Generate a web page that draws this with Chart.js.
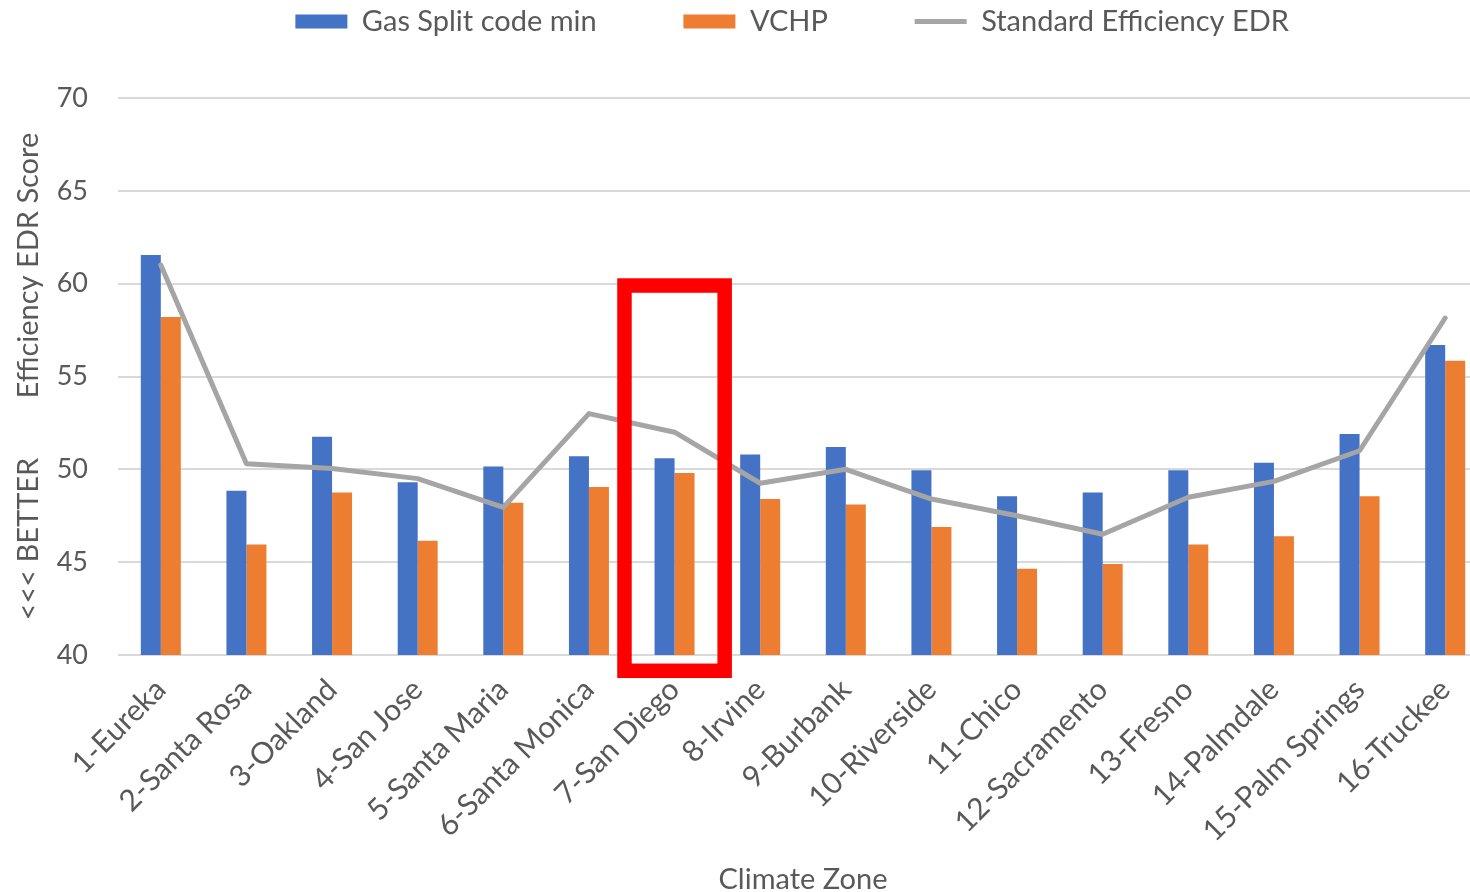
<!DOCTYPE html>
<html>
<head>
<meta charset="utf-8">
<script src="https://cdn.jsdelivr.net/npm/chart.js@4.4.1/dist/chart.umd.min.js"></script>
<style>
  html, body { margin: 0; padding: 0; background: #fff; overflow: hidden; }
  #wrap { width: 1470px; height: 892px; overflow: hidden; }
</style>
</head>
<body>
<div id="wrap"><canvas id="edrChart" width="1490" height="892"></canvas></div>
<script>
// Climate zones (x categories)
const zonas = [
  "1-Eureka", "2-Santa Rosa", "3-Oakland", "4-San Jose", "5-Santa Maria",
  "6-Santa Monica", "7-San Diego", "8-Irvine", "9-Burbank", "10-Riverside",
  "11-Chico", "12-Sacramento", "13-Fresno", "14-Palmdale", "15-Palm Springs",
  "16-Truckee"
];

// Series values
const gasSplit = [61.55, 48.85, 51.75, 49.3, 50.15, 50.7, 50.6, 50.8, 51.2, 49.95, 48.55, 48.75, 49.95, 50.35, 51.9, 56.7];
const vchp = [58.2, 45.95, 48.75, 46.15, 48.2, 49.05, 49.8, 48.4, 48.1, 46.9, 44.65, 44.9, 45.95, 46.4, 48.55, 55.85];
const standardEDR = [61.0, 50.3, 50.05, 49.5, 47.95, 53.0, 52.0, 49.25, 50.0, 48.4, 47.5, 46.5, 48.5, 49.35, 51.0, 58.15];

// Y axis
const yMin = 40;
const yMax = 70;
const yStep = 5;

// Highlighted zone (red box)
const zonaDestaque = 6;
const destaqueTopo = 59.9;
const destaqueBase = 39.15;

const textColor = '#595959';
const fontFamily = "Lato, 'Open Sans', sans-serif";

// keeps legend row at the top and the plot starting lower
const legendSpacer = {
  id: 'legendSpacer',
  afterInit(chart) {
    const legend = chart.legend;
    if (!legend) return;
    const fit = legend.fit;
    legend.fit = function () {
      fit.call(this);
      this.height = 98;
    };
  }
};

// red rectangle around the highlighted zone
const highlightBox = {
  id: 'highlightBox',
  afterDatasetsDraw(chart) {
    const { ctx, scales: { x, y } } = chart;
    const centro = x.getPixelForValue(zonaDestaque);
    const largura = x.width / zonas.length;
    const esquerda = centro - largura * 0.585;
    const direita = centro + largura * 0.585;
    const topo = y.getPixelForValue(destaqueTopo);
    const base = y.getPixelForValue(destaqueBase);
    ctx.save();
    ctx.strokeStyle = '#FF0000';
    ctx.lineWidth = 14.5;
    ctx.lineJoin = 'miter';
    ctx.strokeRect(esquerda, topo, direita - esquerda, base - topo);
    ctx.restore();
  }
};

const ctx = document.getElementById('edrChart').getContext('2d');

new Chart(ctx, {
  type: 'bar',
  data: {
    labels: zonas,
    datasets: [
      {
        label: 'Gas Split code min',
        data: gasSplit,
        backgroundColor: '#4472C4',
        borderWidth: 0,
        categoryPercentage: 0.467,
        barPercentage: 1.0
      },
      {
        label: 'VCHP',
        data: vchp,
        backgroundColor: '#ED7D31',
        borderWidth: 0,
        categoryPercentage: 0.467,
        barPercentage: 1.0
      },
      {
        type: 'line',
        label: 'Standard Efficiency EDR',
        data: standardEDR,
        borderColor: '#A5A5A5',
        backgroundColor: '#A5A5A5',
        borderWidth: 5,
        borderCapStyle: 'round',
        borderJoinStyle: 'round',
        pointRadius: 0,
        tension: 0,
        order: -1
      }
    ]
  },
  options: {
    responsive: false,
    animation: false,
    devicePixelRatio: 1,
    layout: {
      padding: { left: 10, right: 2, top: 0, bottom: -5 }
    },
    plugins: {
      tooltip: { enabled: false },
      legend: {
        position: 'top',
        fullSize: false,
        labels: {
          color: textColor,
          font: { family: fontFamily, size: 29 },
          usePointStyle: true,
          pointStyleWidth: 52,
          boxHeight: 14,
          padding: 7,
          sort: (a, b) => a.datasetIndex - b.datasetIndex,
          generateLabels(chart) {
            const itens = Chart.defaults.plugins.legend.labels.generateLabels(chart);
            itens.forEach(item => {
              const ds = chart.data.datasets[item.datasetIndex];
              item.pointStyle = ds.type === 'line' ? 'line' : 'rect';
              // gap between legend entries
              if (item.datasetIndex < 2) item.text = item.text + '\u2003\u2003\u2003\u2002';
              else item.text = item.text + '\u2003';
            });
            return itens;
          }
        }
      }
    },
    scales: {
      x: {
        grid: { display: false },
        border: { display: false },
        ticks: {
          color: textColor,
          font: { family: fontFamily, size: 30 },
          minRotation: 45,
          maxRotation: 45,
          autoSkip: false,
          padding: 9
        },
        title: {
          display: true,
          text: 'Climate Zone',
          color: textColor,
          font: { family: fontFamily, size: 29 },
          padding: { top: 0, bottom: 0 }
        },
        afterFit(scale) {
          scale.height = 892 - 655 + 5;
        }
      },
      y: {
        min: yMin,
        max: yMax,
        grid: {
          color: '#D9D9D9',
          lineWidth: 2,
          drawTicks: false
        },
        border: { display: false },
        ticks: {
          stepSize: yStep,
          color: textColor,
          font: { family: fontFamily, size: 27 },
          padding: 30
        },
        title: {
          display: true,
          text: '<<< BETTER        Efficiency EDR Score',
          color: textColor,
          font: { family: fontFamily, size: 29 },
          padding: { top: 1, bottom: 0 }
        },
        afterFit(scale) {
          scale.width = 108;
        }
      }
    }
  },
  plugins: [legendSpacer, highlightBox]
});
</script>
</body>
</html>
